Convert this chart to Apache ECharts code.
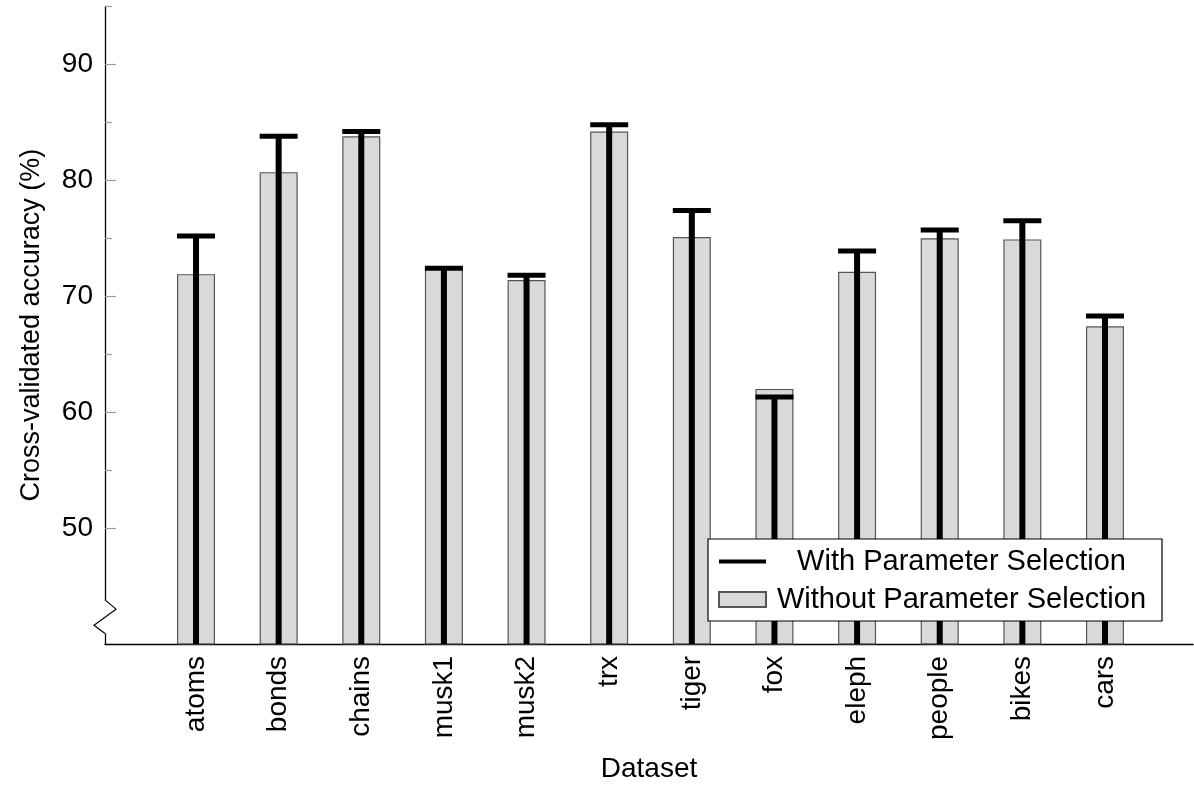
<!DOCTYPE html>
<html>
<head>
<meta charset="utf-8">
<script src="https://cdn.jsdelivr.net/npm/echarts@6/dist/echarts.min.js"></script>
<style>
  html, body { margin: 0; padding: 0; background: #fff; }
  #chart { width: 1194px; height: 791px; }
</style>
</head>
<body>
<div id="chart"></div>
<script>
// Cross-validated accuracy per dataset, with and without parameter selection
const datasets = ['atoms', 'bonds', 'chains', 'musk1', 'musk2', 'trx', 'tiger', 'fox', 'eleph', 'people', 'bikes', 'cars'];
const withSelection = [75.2, 83.8, 84.2, 72.4, 71.8, 84.8, 77.4, 61.3, 73.9, 75.7, 76.5, 68.3];
const withoutSelection = [71.9, 80.7, 83.8, 72.5, 71.4, 84.2, 75.1, 62.0, 72.1, 75.0, 74.9, 67.4];
const yMajorTicks = [50, 60, 70, 80, 90];
const yMinorTicks = [55, 65, 75, 85, 95];
const yRange = [40, 95];

const FONT = 'Liberation Sans';
const chart = echarts.init(document.getElementById('chart'), null, { renderer: 'canvas' });

// Vertical "with selection" stroke rising from the axis floor, capped at its value
function renderCappedBar(params, api) {
  const idx = api.value(0);
  const top = api.coord([idx, api.value(1)]);
  const base = api.coord([idx, yRange[0]]);
  const capW = api.size([1, 0])[0] * 0.46;
  return {
    type: 'group',
    children: [
      { type: 'line', shape: { x1: top[0], y1: top[1], x2: base[0], y2: base[1] },
        style: { stroke: '#000', lineWidth: 6 } },
      { type: 'line', shape: { x1: top[0] - capW / 2, y1: top[1], x2: top[0] + capW / 2, y2: top[1] },
        style: { stroke: '#000', lineWidth: 5 } }
    ]
  };
}

// Zigzag on the y axis near its floor, marking that it does not start at zero
function renderAxisBreak(params, api) {
  const lo = yRange[0];
  const p0 = api.coord([0, lo + 3.8]);
  const p1 = api.coord([0, lo + 3.0]);
  const p2 = api.coord([0, lo + 1.6]);
  const p3 = api.coord([0, lo + 0.9]);
  return {
    type: 'group',
    children: [
      { type: 'line', shape: { x1: p0[0], y1: p0[1], x2: p3[0], y2: p3[1] },
        style: { stroke: '#fff', lineWidth: 4 } },
      { type: 'polyline',
        shape: { points: [p0, [p1[0] + 11, p1[1]], [p2[0] - 11, p2[1]], p3] },
        style: { stroke: '#000', lineWidth: 1.2, fill: null } }
    ]
  };
}

const legendText = { width: 381, align: 'center', fontSize: 29, fontFamily: FONT, color: '#000', lineHeight: 30 };

const option = {
  animation: false,
  backgroundColor: '#fff',
  textStyle: { fontFamily: FONT, color: '#000' },
  grid: [
    { left: 105, right: 1, top: 6.4, bottom: 147.1 },
    { left: 154.7, right: 47.7, top: 6.4, bottom: 147.1 }
  ],
  xAxis: [
    {
      gridIndex: 0, type: 'value', min: 0, max: 1,
      axisLine: { show: true, lineStyle: { color: '#000', width: 1.3 } },
      axisTick: { show: false }, axisLabel: { show: false }, splitLine: { show: false },
      name: 'Dataset', nameLocation: 'middle', nameGap: 111,
      nameTextStyle: { fontSize: 28, fontFamily: FONT, color: '#000' }
    },
    {
      gridIndex: 1, type: 'category', data: datasets,
      axisLine: { show: false }, axisTick: { show: false },
      axisLabel: { rotate: 90, margin: 12, interval: 0, fontSize: 28, fontFamily: FONT, color: '#000' }
    }
  ],
  yAxis: [
    {
      gridIndex: 0, type: 'value', position: 'left', min: yRange[0], max: yRange[1],
      axisLine: { show: true, lineStyle: { color: '#000', width: 1.3 } },
      axisTick: { show: true, inside: true, length: 11, customValues: yMajorTicks,
                  lineStyle: { color: '#999', width: 1.2 } },
      axisLabel: { customValues: yMajorTicks, margin: 12, fontSize: 28, fontFamily: FONT, color: '#000' },
      splitLine: { show: false },
      name: 'Cross-validated accuracy (%)', nameLocation: 'middle', nameGap: 60, nameRotate: 90,
      nameTextStyle: { fontSize: 27, fontFamily: FONT, color: '#000' }
    },
    {
      gridIndex: 0, type: 'value', position: 'left', offset: 0, min: yRange[0], max: yRange[1],
      axisLine: { show: false },
      axisTick: { show: true, inside: true, length: 7, customValues: yMinorTicks,
                  lineStyle: { color: '#999', width: 1.2 } },
      axisLabel: { show: false }, splitLine: { show: false }
    },
    { gridIndex: 1, type: 'value', min: yRange[0], max: yRange[1], show: false }
  ],
  legend: {
    orient: 'vertical', left: 708, top: 539,
    padding: [8, 10, 7, 10], itemGap: 9,
    itemWidth: 47, itemHeight: 15,
    borderColor: '#000', borderWidth: 1.2, backgroundColor: '#fff',
    selectedMode: false,
    formatter: name => '{t|' + name + '}',
    textStyle: { rich: { t: legendText } },
    data: [
      { name: 'With Parameter Selection',
        icon: 'path://M0,0M47,0M47,15M0,15M0,5.5L47,5.5L47,9.5L0,9.5Z' },
      { name: 'Without Parameter Selection', icon: 'rect' }
    ]
  },
  series: [
    {
      name: 'Without Parameter Selection', type: 'bar',
      xAxisIndex: 1, yAxisIndex: 2,
      data: withoutSelection, barWidth: '46%',
      itemStyle: { color: '#d9d9d9', borderColor: '#555', borderWidth: 1.2 },
      silent: true, z: 2
    },
    {
      name: 'With Parameter Selection', type: 'custom',
      xAxisIndex: 1, yAxisIndex: 2,
      data: withSelection.map((v, i) => [i, v]),
      encode: { x: 0, y: 1 },
      renderItem: renderCappedBar,
      itemStyle: { color: '#000' },
      silent: true, z: 3
    },
    {
      type: 'custom', xAxisIndex: 0, yAxisIndex: 0,
      data: [[0, yRange[0]]],
      renderItem: renderAxisBreak,
      clip: false, silent: true, z: 4
    }
  ]
};

chart.setOption(option);
</script>
</body>
</html>
